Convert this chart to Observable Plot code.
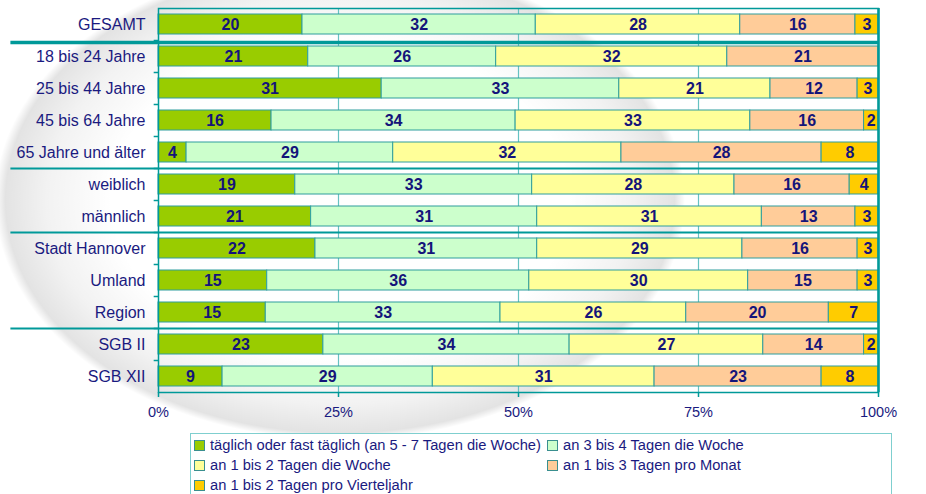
<!DOCTYPE html>
<html>
<head>
<meta charset="utf-8">
<script src="https://cdn.jsdelivr.net/npm/d3@7"></script>
<script src="https://cdn.jsdelivr.net/npm/@observablehq/plot@0.6"></script>
<style>
  html, body { margin: 0; padding: 0; background: #fff; }
  #wrap { position: relative; width: 926px; height: 494px; overflow: hidden; font-family: "Liberation Sans", Arial, sans-serif; }
  #swoosh { position: absolute; left: 0; top: 0; width: 926px; height: 494px;
    background: radial-gradient(ellipse 345px 240px at 340px 200px, rgba(0,0,0,0) 66%, rgba(0,0,0,0.05) 85%, rgba(0,0,0,0.11) 97%, rgba(0,0,0,0) 100%); }
  #chart { position: absolute; left: 0; top: 0; }
  #legend { position: absolute; left: 190px; top: 433px; width: 702px; height: 80px; border: 1.5px solid #7fcfcf; background: #fff;
    display: grid; grid-template-columns: 353px auto; grid-auto-rows: 20px; padding-top: 1px; box-sizing: border-box; }
  .item { display: flex; align-items: center; font-size: 14.7px; color: #1a1a80; white-space: nowrap; }
  .sw { width: 9px; height: 9px; border: 1px solid #3a8f8f; margin: 0 5px 0 3px; }
</style>
</head>
<body>
<div id="wrap">
  <div id="swoosh"></div>
  <div id="chart"></div>
  <div id="legend"></div>
</div>
<script>
const categories = ["GESAMT", "18 bis 24 Jahre", "25 bis 44 Jahre", "45 bis 64 Jahre", "65 Jahre und älter", "weiblich", "männlich", "Stadt Hannover", "Umland", "Region", "SGB II", "SGB XII"];
const series = ["täglich oder fast täglich (an 5 - 7 Tagen die Woche)", "an 3 bis 4 Tagen die Woche", "an 1 bis 2 Tagen die Woche", "an 1 bis 3 Tagen pro Monat", "an 1 bis 2 Tagen pro Vierteljahr"];
const colors = ["#99cc00", "#ccffcc", "#ffff99", "#ffcc99", "#ffcc00"];

const taeglich    = [20.0, 20.8, 31.0, 15.7, 3.9, 19.0, 21.2, 21.8, 15.1, 14.9, 22.9, 8.9];
const woche3bis4  = [32.4, 26.1, 33.0, 33.9, 28.7, 32.9, 31.4, 30.8, 36.4, 32.6, 34.2, 29.2];
const woche1bis2  = [28.4, 32.1, 21.0, 32.6, 31.7, 28.1, 31.2, 28.5, 30.4, 25.8, 26.9, 30.8];
const monat       = [16.0, 21.0, 12.1, 15.8, 27.8, 16.0, 13.0, 16.0, 15.2, 19.8, 14.0, 23.2];
const vierteljahr = [3.2, 0, 2.9, 2.0, 7.9, 4.0, 3.2, 2.9, 2.9, 6.9, 2.0, 7.9];

const xTicks = [0, 25, 50, 75, 100];
const groupEnds = ["65 Jahre und älter", "männlich", "Region"];
const note = "n=19!";

const seriesValues = [taeglich, woche3bis4, woche1bis2, monat, vierteljahr];
const rows = [];
categories.forEach((c, i) => seriesValues.forEach((arr, j) => {
  if (arr[i] > 0) rows.push({cat: c, series: series[j], value: arr[i]});
}));

const teal = "#009999";
const navy = "#1a1a80";

const chart = Plot.plot({
  width: 926, height: 425,
  marginLeft: 158, marginRight: 48, marginTop: 8, marginBottom: 33,
  style: {background: "transparent", fontFamily: "Liberation Sans, Arial, sans-serif"},
  x: {domain: [0, 100], label: null},
  y: {domain: categories, padding: 0, label: null},
  color: {domain: series, range: colors},
  marks: [
    Plot.ruleX([25, 50, 75], {stroke: "#66c2c2", strokeWidth: 1.2}),
    Plot.barX(rows, Plot.stackX({x: "value", y: "cat", fill: "series", stroke: "#2f9e9e", strokeWidth: 1, insetTop: 6, insetBottom: 6})),
    Plot.text(rows, Plot.stackX({x: "value", y: "cat", z: "series", text: d => Math.round(d.value), fontWeight: "bold", fontSize: 16, fill: "#14147a"})),
    Plot.frame({stroke: teal, strokeWidth: 1.5}),
    Plot.ruleX([100], {stroke: teal, strokeWidth: 2.5}),
    Plot.ruleY(categories.slice(0, -1), {y: d => d, x1: -0.6, x2: 0, dy: 16, stroke: teal, strokeWidth: 1.5}),
    Plot.ruleY(groupEnds, {y: d => d, x1: -20.5, x2: 100, dy: 16, stroke: teal, strokeWidth: 2}),
    Plot.ruleY([categories[0]], {y: d => d, x1: -20.5, x2: 100, dy: 18, stroke: teal, strokeWidth: 3.5}),
    Plot.axisX({ticks: xTicks, tickFormat: d => d + "%", tickSize: 5, tickPadding: 9, fontSize: 14.5, fill: navy, stroke: teal, strokeWidth: 1.5}),
    Plot.axisY({tickSize: 0, tickPadding: 13, fontSize: 16, fill: navy}),
    Plot.text([note], {x: 100, y: categories[1], text: d => d, dx: 8, textAnchor: "start", fill: "#ff3333", fontSize: 13, style: "letter-spacing:1px"})
  ]
});
document.getElementById("chart").appendChild(chart);

const legend = document.getElementById("legend");
series.forEach((s, j) => {
  const it = document.createElement("div");
  it.className = "item";
  const sw = document.createElement("span");
  sw.className = "sw";
  sw.style.background = colors[j];
  it.appendChild(sw);
  it.appendChild(document.createTextNode(s));
  legend.appendChild(it);
});
</script>
</body>
</html>
